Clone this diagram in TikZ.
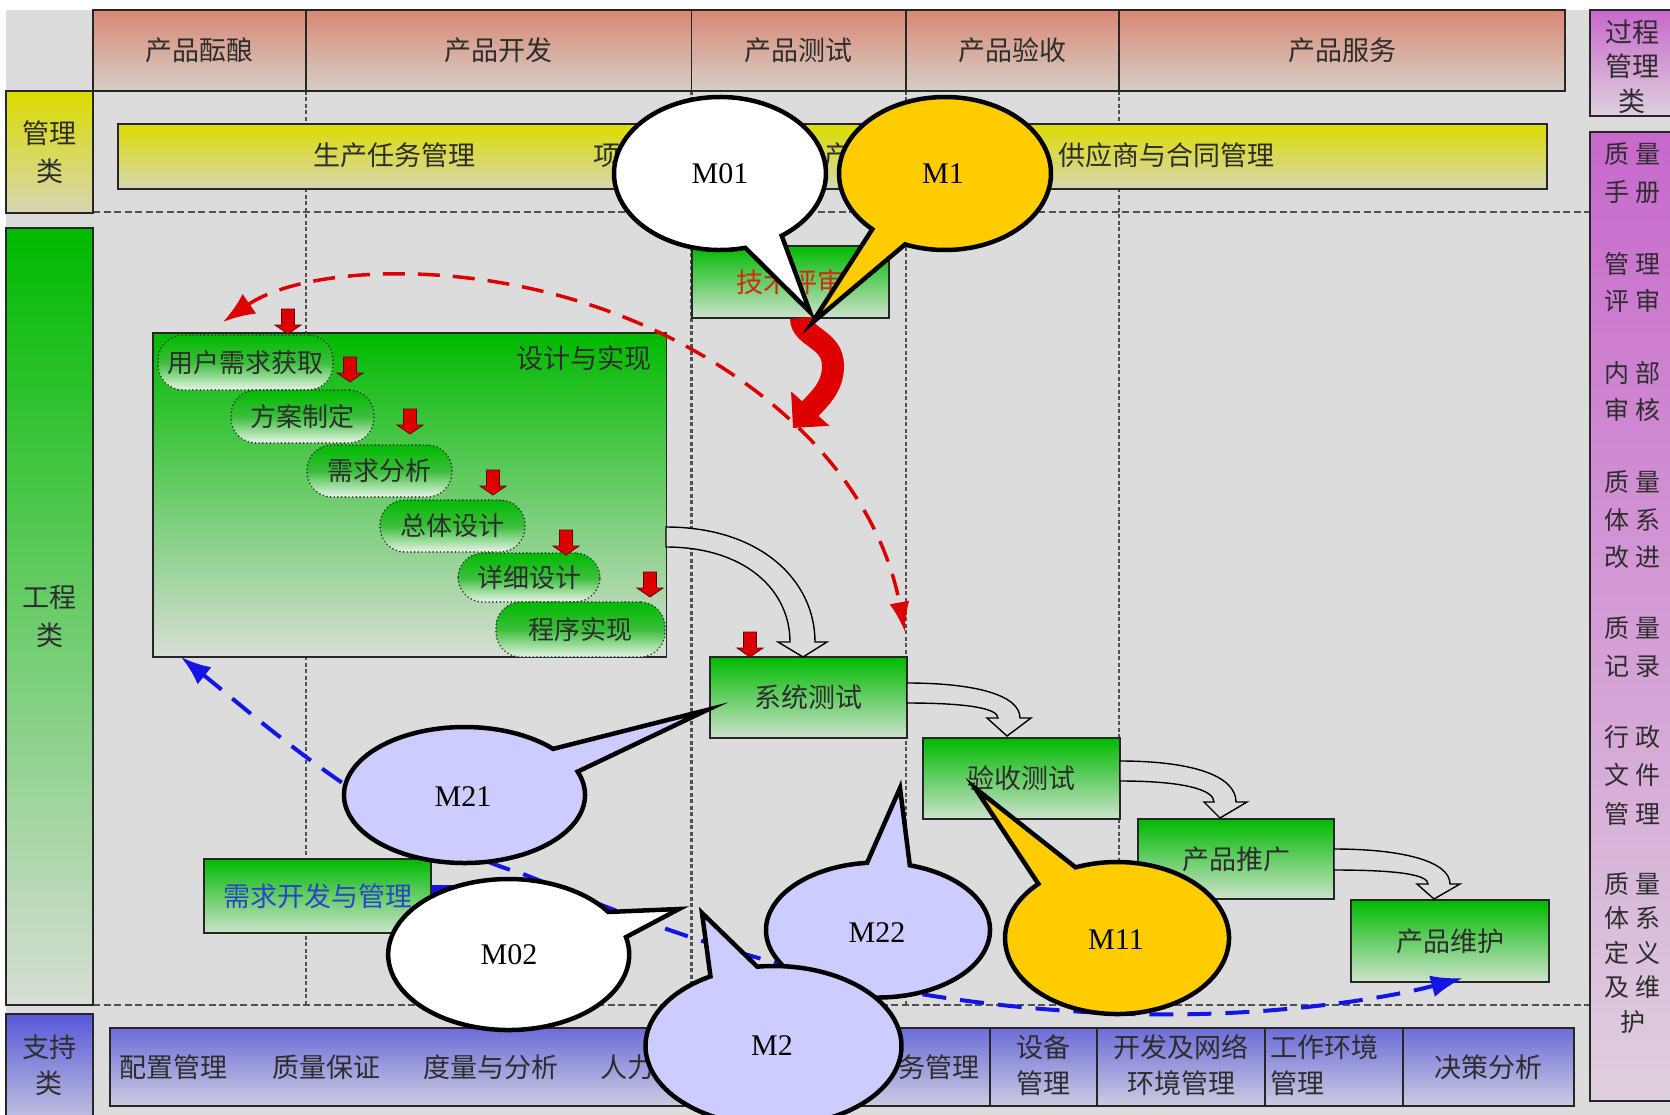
\documentclass[tikz,border=0pt]{standalone}
\usepackage{fontspec}
\setmainfont{Noto Sans CJK SC}
\newfontfamily\tms{Liberation Serif}
\usetikzlibrary{arrows.meta,shapes.geometric}
\definecolor{bgg}{RGB}{220,220,220}
\definecolor{hdrT}{RGB}{217,136,116}
\definecolor{hdrB}{RGB}{214,206,198}
\definecolor{yelT}{RGB}{220,220,0}
\definecolor{yelB}{RGB}{214,214,180}
\definecolor{grnT}{RGB}{0,186,0}
\definecolor{grnB}{RGB}{206,226,206}
\definecolor{grnB2}{RGB}{216,222,214}
\definecolor{stM}{RGB}{60,190,60}
\definecolor{stB}{RGB}{232,244,232}
\definecolor{bluT}{RGB}{88,88,216}
\definecolor{bluB}{RGB}{204,204,226}
\definecolor{barT}{RGB}{108,108,216}
\definecolor{purT}{RGB}{200,104,204}
\definecolor{purB}{RGB}{222,208,222}
\definecolor{txt}{RGB}{45,45,45}
\definecolor{lav}{RGB}{204,204,255}
\definecolor{gold}{RGB}{255,204,0}
\definecolor{redA}{RGB}{222,0,0}
\definecolor{bluA}{RGB}{20,20,230}
\definecolor{gridc}{RGB}{80,80,80}
\definecolor{reqtxt}{RGB}{40,70,200}
\definecolor{techtxt}{RGB}{210,40,20}
\newcommand\tw[2]{#1\hspace{6pt}#2}
\tikzset{
  box/.style={draw=black!85, line width=1.6pt, inner sep=0pt, text=txt,
    font={\fontsize{27}{38}\selectfont}, align=center},
  hdr/.style={box, top color=hdrT, bottom color=hdrB, minimum height=81pt},
  grbox/.style={box, top color=grnT, bottom color=grnB},
  stad/.style={draw=black!80, line width=1.8pt, line cap=round,
    dash pattern=on 0.1pt off 3.6pt, rounded corners=25pt,
    top color=grnT, bottom color=stB, middle color=stM, inner sep=0pt,
    text=txt, font={\fontsize{26}{30}\selectfont}},
  lbl/.style={inner sep=0pt, text=txt, font={\fontsize{27}{36}\selectfont}, align=center},
  rlbl/.style={inner sep=0pt, text=txt, font={\fontsize{25}{25}\selectfont}},
  mtxt/.style={inner sep=0pt, font={\tms\fontsize{30}{30}\selectfont}},
  bub/.style={draw=black, line width=4.5pt, line join=miter, miter limit=25},
  gridv/.style={gridc, line width=2.8pt, dash pattern=on 4pt off 2.5pt},
  gridh/.style={gridc, line width=2.6pt, dash pattern=on 7pt off 3.5pt},
  hollow/.style={fill=bgg, draw=black, line width=1.4pt, line join=miter},
  redarr/.pic={\path[fill=redA, draw=black!60!red, line width=0.8pt]
     (-6.5,0) -- (6.5,0) -- (6.5,16) -- (13,16) -- (0,25) -- (-13,16) -- (-6.5,16) -- cycle;}
}
\begin{document}
\begin{tikzpicture}[x=1pt,y=-1pt]
\useasboundingbox (0,0) rectangle (1670,1114);
\fill[white] (0,0) rectangle (1670,1114);
\fill[bgg] (6,9.6) rectangle (1690,1130);
% grid lines
\draw[gridv] (306,90.7) -- (306,1005);
\draw[gridv] (691.4,90.7) -- (691.4,1005);
\draw[gridv] (906,90.7) -- (906,1005);
\draw[gridv] (1119,90.7) -- (1119,1005);
\draw[gridh] (93,212) -- (1590,212);
\draw[gridh] (93,1005) -- (1590,1005);
% header
\node[hdr, minimum width=213pt] (h1) at (199.5,50.2) {产品酝酿};
\node[hdr, minimum width=385.4pt] (h2) at (498.7,50.2) {产品开发};
\node[hdr, minimum width=214.6pt] (h3) at (798.7,50.2) {产品测试};
\node[hdr, minimum width=213pt] (h4) at (1012.5,50.2) {产品验收};
\node[hdr, minimum width=446pt] (h5) at (1342,50.2) {产品服务};
% left category boxes
\node[box, top color=yelT, bottom color=yelB, minimum width=87pt, minimum height=122.3pt] (mg) at (49.5,151.9) {管理\\类};
\node[box, top color=grnT, bottom color=grnB2, minimum width=87pt, minimum height=777pt] (eng) at (49.5,616.5) {工程\\类};
\node[box, top color=bluT, bottom color=bluB, minimum width=87pt, minimum height=116pt] (sup) at (49.5,1072) {};
\node[lbl] (supt) at (49,1065) {支持\\类};
% yellow bar
\node[box, top color=yelT, bottom color=yelB, minimum width=1429pt, minimum height=65pt] (ybar) at (832.5,156.5) {};
\node[lbl] (y1) at (394.5,155) {生产任务管理};
\node[lbl, anchor=west] (y2) at (593,155) {项目管理};
\node[lbl, anchor=west] (y3) at (824,155) {产品管理};
\node[lbl] (y4) at (1166,155) {供应商与合同管理};
% bottom bar
\node[box, top color=barT, bottom color=bluB, minimum width=1464pt, minimum height=78pt] (bbar) at (842,1067) {};
\draw[black!85, line width=1.6pt] (990,1028) -- (990,1106) (1097,1028) -- (1097,1106)
  (1265,1028) -- (1265,1106) (1403,1028) -- (1403,1106);
\node[lbl] (b1) at (173.5,1067) {配置管理};
\node[lbl] (b2) at (326,1067) {质量保证};
\node[lbl] (b3) at (491,1067) {度量与分析};
\node[lbl] (b4) at (681,1067) {人力资源管理};
\node[lbl, anchor=east] (b5) at (980,1067) {资产财务管理};
\node[lbl] (b6) at (1043.5,1065) {设备\\管理};
\node[lbl] (b7) at (1181,1065) {开发及网络\\环境管理};
\node[lbl, align=left, anchor=west] (b8) at (1270,1065) {工作环境\\管理};
\node[lbl] (b9) at (1488,1067) {决策分析};
% right purple column
\node[box, top color=purT, bottom color=purB, minimum width=100pt, minimum height=106pt] (proc) at (1640,63) {};
\node[lbl, font={\fontsize{27}{34.5}\selectfont}] (proct) at (1632,66.5) {过程\\管理\\类};
\node[box, top color=purT, bottom color=purB, minimum width=100pt, minimum height=969pt] (qual) at (1640,616.5) {};
\foreach \yy/\a/\b [count=\i] in {154/质/量,192/手/册,264/管/理,301/评/审,373/内/部,410/审/核,
   482/质/量,520/体/系,557/改/进,628/质/量,666/记/录,737/行/政,775/文/件,814/管/理,
   884/质/量,918/体/系,953/定/义,987/及/维}
  \node[rlbl] (q\i) at (1632.5,\yy) {\tw{\a}{\b}};
\node[rlbl] (q19) at (1632.5,1022) {护};
% engineering boxes
\node[grbox, minimum width=197pt, minimum height=72pt, text=techtxt] (tech) at (790.5,282) {技术评审};
\node[box, top color=grnT, bottom color=grnB2, minimum width=513.5pt, minimum height=324pt] (design) at (409.75,495) {};
\node[lbl] (dt) at (583.5,358) {设计与实现};
\node[stad, minimum width=175pt, minimum height=55pt] (s1) at (245.5,362.5) {用户需求获取};
\node[stad, minimum width=143pt, minimum height=53pt] (s2) at (302.5,416.5) {方案制定};
\node[stad, minimum width=145pt, minimum height=52pt] (s3) at (379.5,471) {需求分析};
\node[stad, minimum width=145pt, minimum height=52pt] (s4) at (452.5,526) {总体设计};
\node[stad, minimum width=142pt, minimum height=49pt] (s5) at (529,577.5) {详细设计};
\node[stad, minimum width=169pt, minimum height=55pt] (s6) at (580.5,629.5) {程序实现};
\node[grbox, minimum width=197pt, minimum height=81pt] (sys) at (808.5,697.5) {系统测试};
\node[grbox, minimum width=197pt, minimum height=81pt] (acc) at (1021.5,778.5) {验收测试};
\node[grbox, minimum width=196pt, minimum height=80pt] (promo) at (1236,859) {产品推广};
\node[grbox, minimum width=198pt, minimum height=82pt] (maint) at (1450,941) {产品维护};
\node[grbox, minimum width=227pt, minimum height=74pt, text=reqtxt] (req) at (317.5,896) {需求开发与管理};
% small red arrows
\pic at (288,309) {redarr};
\pic at (350,357) {redarr};
\pic at (410,409) {redarr};
\pic at (493,470) {redarr};
\pic at (566,530) {redarr};
\pic at (650,572) {redarr};
\pic at (750,632) {redarr};
% hollow arrows
\path[hollow] (666,527) .. controls (760,527) and (815,580) .. (815,642) -- (827,642) -- (803,657)
  -- (778,642) -- (790,642) .. controls (790,590) and (745,547) .. (666,547) -- cycle;
\path[hollow] (907,683) .. controls (975,683) and (1020,695) .. (1020,718) -- (1031,718) -- (1007,736)
  -- (987,718) -- (998,718) .. controls (998,708) and (965,703) .. (907,703) -- cycle;
\path[hollow] (1120,761) .. controls (1190,761) and (1236,775) .. (1236,802) -- (1247,802) -- (1220,818)
  -- (1204,802) -- (1214,802) .. controls (1214,790) and (1185,781) .. (1120,781) -- cycle;
\path[hollow] (1334,849) .. controls (1405,849) and (1450,862) .. (1450,884) -- (1460,884) -- (1434,899)
  -- (1417,884) -- (1428,884) .. controls (1428,875) and (1400,870) .. (1334,870) -- cycle;
% red curved thick arrow
\draw[redA, line width=22pt, -{Triangle[length=26pt,width=50pt]}] (801,318) .. controls (801,338) and (833,338) .. (833,366)
  .. controls (833,388) and (818,400) .. (793,428);
% red dashed arc
\coordinate (rA) at (223,322);
\coordinate (rB) at (905,632);
\draw[redA, line width=3.5pt, dash pattern=on 22pt off 13pt,
  {Latex[length=32pt,width=24pt]}-{Latex[length=30pt,width=20pt]}]
  (rA) .. controls (310,262) and (520,252) .. (693,350) .. controls (800,410) and (880,500) .. (rB);
% blue dashed arc
\coordinate (bA) at (181,657);
\coordinate (bB) at (1463,978);
\draw[bluA, line width=11pt] ([yshift=6pt]req.east) -- ++(40,0);
\draw[bluA, line width=4pt, dash pattern=on 24pt off 14pt,
  {Latex[length=30pt,width=22pt]}-{Latex[length=32pt,width=22pt]}]
  (bA) .. controls (260,720) and (380,830) .. (523,874) .. controls (640,920) and (820,1000) .. (1105,1013)
  .. controls (1250,1020) and (1380,1000) .. (bB);
% bubbles
\path[bub, fill=white] (720,173.5) ++(76.2:106 and 76.5) arc[start angle=76.2, end angle=414.4, x radius=106, y radius=76.5] -- (810,312) -- cycle;
\node[mtxt] (m01) at (720,174) {M01};
\path[bub, fill=gold] (945,173.5) ++(133.3:106 and 76.5) arc[start angle=133.3, end angle=472.1, x radius=106, y radius=76.5] -- (812,323) -- cycle;
\node[mtxt] (m1) at (943,174) {M1};
\path[bub, fill=lav] (464.5,795) ++(-20.1:120.5 and 68) arc[start angle=-20.1, end angle=317.3, x radius=120.5, y radius=68] -- (707,710) -- cycle;
\node[mtxt] (m21) at (463,797) {M21};
\path[bub, fill=white] (508.7,954.5) ++(-13.3:120.5 and 75.5) arc[start angle=-13.3, end angle=325.7, x radius=120.5, y radius=75.5] -- (679,909) -- cycle;
\node[mtxt] (m02) at (509,955) {M02};
\path[bub, fill=lav] (878,930) ++(-73.5:112 and 67.5) arc[start angle=-73.5, end angle=264.4, x radius=112, y radius=67.5] -- (900,788) -- cycle;
\node[mtxt] (m22) at (877,933) {M22};
\path[bub, fill=gold] (1117,938) ++(248.3:112 and 76) arc[start angle=248.3, end angle=585.4, x radius=112, y radius=76] -- (975,788) -- cycle;
\node[mtxt] (m11) at (1116,940) {M11};
\path[bub, fill=lav] (773.5,1046) ++(262.7:128 and 80) arc[start angle=262.7, end angle=600.5, x radius=128, y radius=80] -- (702,913) -- cycle;
\node[mtxt] (m2) at (772,1046) {M2};
\end{tikzpicture}
\end{document}
